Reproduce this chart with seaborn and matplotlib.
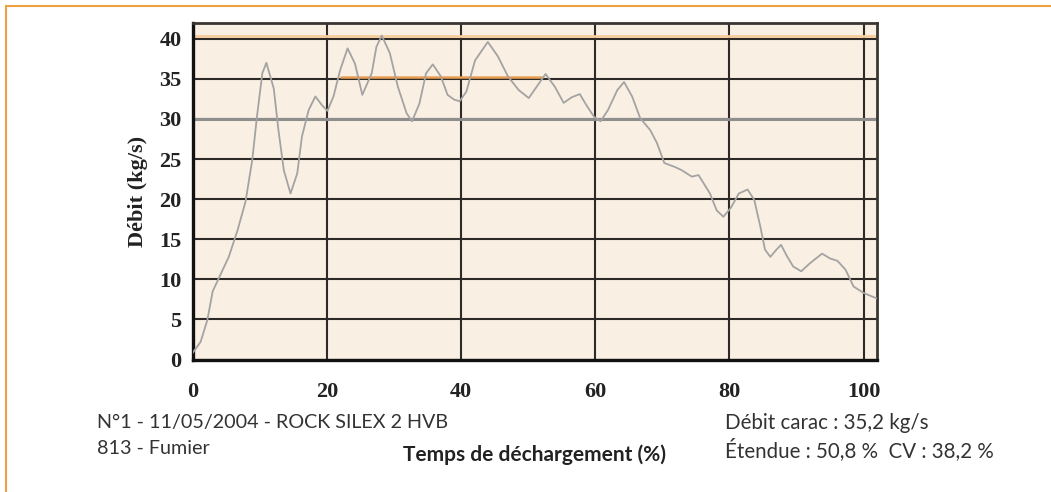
import pandas as pd
import matplotlib.pyplot as plt
import seaborn as sns
from matplotlib.lines import Line2D

temps = [0, 1.2, 2.2, 3.0, 4.0, 5.4, 6.7, 7.9, 8.9, 9.6, 10.4, 11.0, 12.1, 12.8, 13.6,
         14.6, 15.6, 16.3, 17.3, 18.3, 19.3, 20.1, 21.0, 22.0, 23.1, 24.2, 25.3, 26.7,
         27.4, 28.2, 29.4, 30.6, 31.9, 32.7, 33.8, 34.8, 35.8, 37.0, 38.0, 39.0, 39.8,
         40.8, 42.1, 44.0, 45.5, 47.0, 48.6, 50.1, 51.1, 52.6, 54.0, 55.3, 56.5, 57.7,
         58.7, 59.8, 60.8, 61.9, 63.3, 64.3, 65.5, 66.7, 68.2, 69.2, 70.3, 71.9, 72.9,
         74.4, 75.4, 77.1, 78.1, 79.1, 80.2, 81.4, 82.7, 83.7, 84.6, 85.3, 86.1, 87.0,
         87.7, 88.5, 89.5, 90.7, 92.0, 93.8, 95.0, 96.1, 97.3, 98.5, 100.0, 102.0]
debit = [0.8, 2.2, 4.9, 8.5, 10.3, 12.8, 16.1, 19.7, 24.9, 30.3, 35.7, 37.0, 33.8, 28.6,
         23.6, 20.7, 23.2, 27.8, 31.1, 32.8, 31.7, 31.0, 32.8, 36.1, 38.8, 36.9, 33.0,
         35.7, 39.0, 40.4, 38.2, 34.0, 30.7, 29.7, 31.9, 35.7, 36.8, 35.3, 33.0, 32.4,
         32.2, 33.4, 37.3, 39.6, 37.8, 35.3, 33.6, 32.6, 33.8, 35.6, 34.0, 32.0, 32.7,
         33.1, 31.7, 30.3, 29.7, 31.1, 33.6, 34.6, 32.8, 30.1, 28.6, 27.0, 24.5, 24.0,
         23.6, 22.8, 23.0, 20.7, 18.6, 17.8, 18.9, 20.7, 21.2, 19.9, 16.6, 13.7, 12.8,
         13.7, 14.3, 13.0, 11.6, 11.0, 12.0, 13.2, 12.6, 12.3, 11.2, 9.1, 8.3, 7.6]

debit_max = 40.3
debit_carac = 35.2
carac_debut, carac_fin = 22, 52
debit_ref = 30

x_ticks = [0, 20, 40, 60, 80, 100]
y_ticks = [0, 5, 10, 15, 20, 25, 30, 35, 40]

info_gauche = ["N°1 - 11/05/2004 - ROCK SILEX 2 HVB", "813 - Fumier"]
info_droite = ["Débit carac : 35,2 kg/s", "Étendue : 50,8 %  CV : 38,2 %"]

df = pd.DataFrame({"Temps": temps, "Debit": debit})

sns.set_style("white")
plt.rcParams["font.family"] = ["Liberation Serif", "DejaVu Serif"]

fig = plt.figure(figsize=(10.51, 4.92), dpi=100)
ax = fig.add_axes([0.1832, 0.2693, 0.6513, 0.6846])
ax.set_facecolor("#faefe3")

ax.set_xlim(0, 102)
ax.set_ylim(0, 42)
ax.set_xticks(x_ticks)
ax.set_yticks(y_ticks)
ax.grid(True, color="#2e2a28", lw=1.5)
ax.set_axisbelow(True)

# lignes de référence
ax.axhline(debit_max, color="#f6cc9c", lw=2, zorder=2)
ax.axhline(debit_ref, color="#8e8e8e", lw=2.2, zorder=2)
ax.hlines(debit_carac, carac_debut, carac_fin, color="#e9a055", lw=1.8, zorder=2)

sns.lineplot(data=df, x="Temps", y="Debit", ax=ax, color="#a3a3a3", lw=1.3,
             sort=False, zorder=3)

for s in ["left", "bottom"]:
    ax.spines[s].set_color("#111111")
    ax.spines[s].set_linewidth(2.4)
for s in ["top", "right"]:
    ax.spines[s].set_color("#3a3633")
    ax.spines[s].set_linewidth(2)

ax.tick_params(axis="y", direction="out", length=6, width=1.2, pad=2,
               labelsize=16, colors="#222222")
ax.tick_params(axis="x", direction="out", length=5, width=1.2, pad=11,
               labelsize=16, colors="#222222")
for lab in ax.get_xticklabels() + ax.get_yticklabels():
    lab.set_fontweight("bold")

ax.set_xlabel("")
ax.set_ylabel("Débit (kg/s)", fontsize=16, fontweight="bold", color="#222222",
              labelpad=8)

sans = ["Lato", "DejaVu Sans"]
fig.text(0.5088, 0.075, "Temps de déchargement (%)", ha="center", va="center",
         fontsize=15, fontweight="bold", color="#222222", family=sans)

# notes sous le graphique
for i, ligne in enumerate(info_gauche):
    fig.text(0.0923, 0.142 - i * 0.054, ligne, ha="left", va="center",
             fontsize=14.2, color="#333333", family=sans)
for i, ligne in enumerate(info_droite):
    fig.text(0.690, 0.140 - i * 0.054, ligne, ha="left", va="center",
             fontsize=14.8, color="#333333", family=sans)

# cadre orange
fig.add_artist(Line2D([0.0057, 1.0], [0.9878, 0.9878], color="#f0a040", lw=1.5))
fig.add_artist(Line2D([0.0057, 0.0057], [0.0, 0.9878], color="#f0a040", lw=1.5))

fig.savefig("out.png", dpi=100)
